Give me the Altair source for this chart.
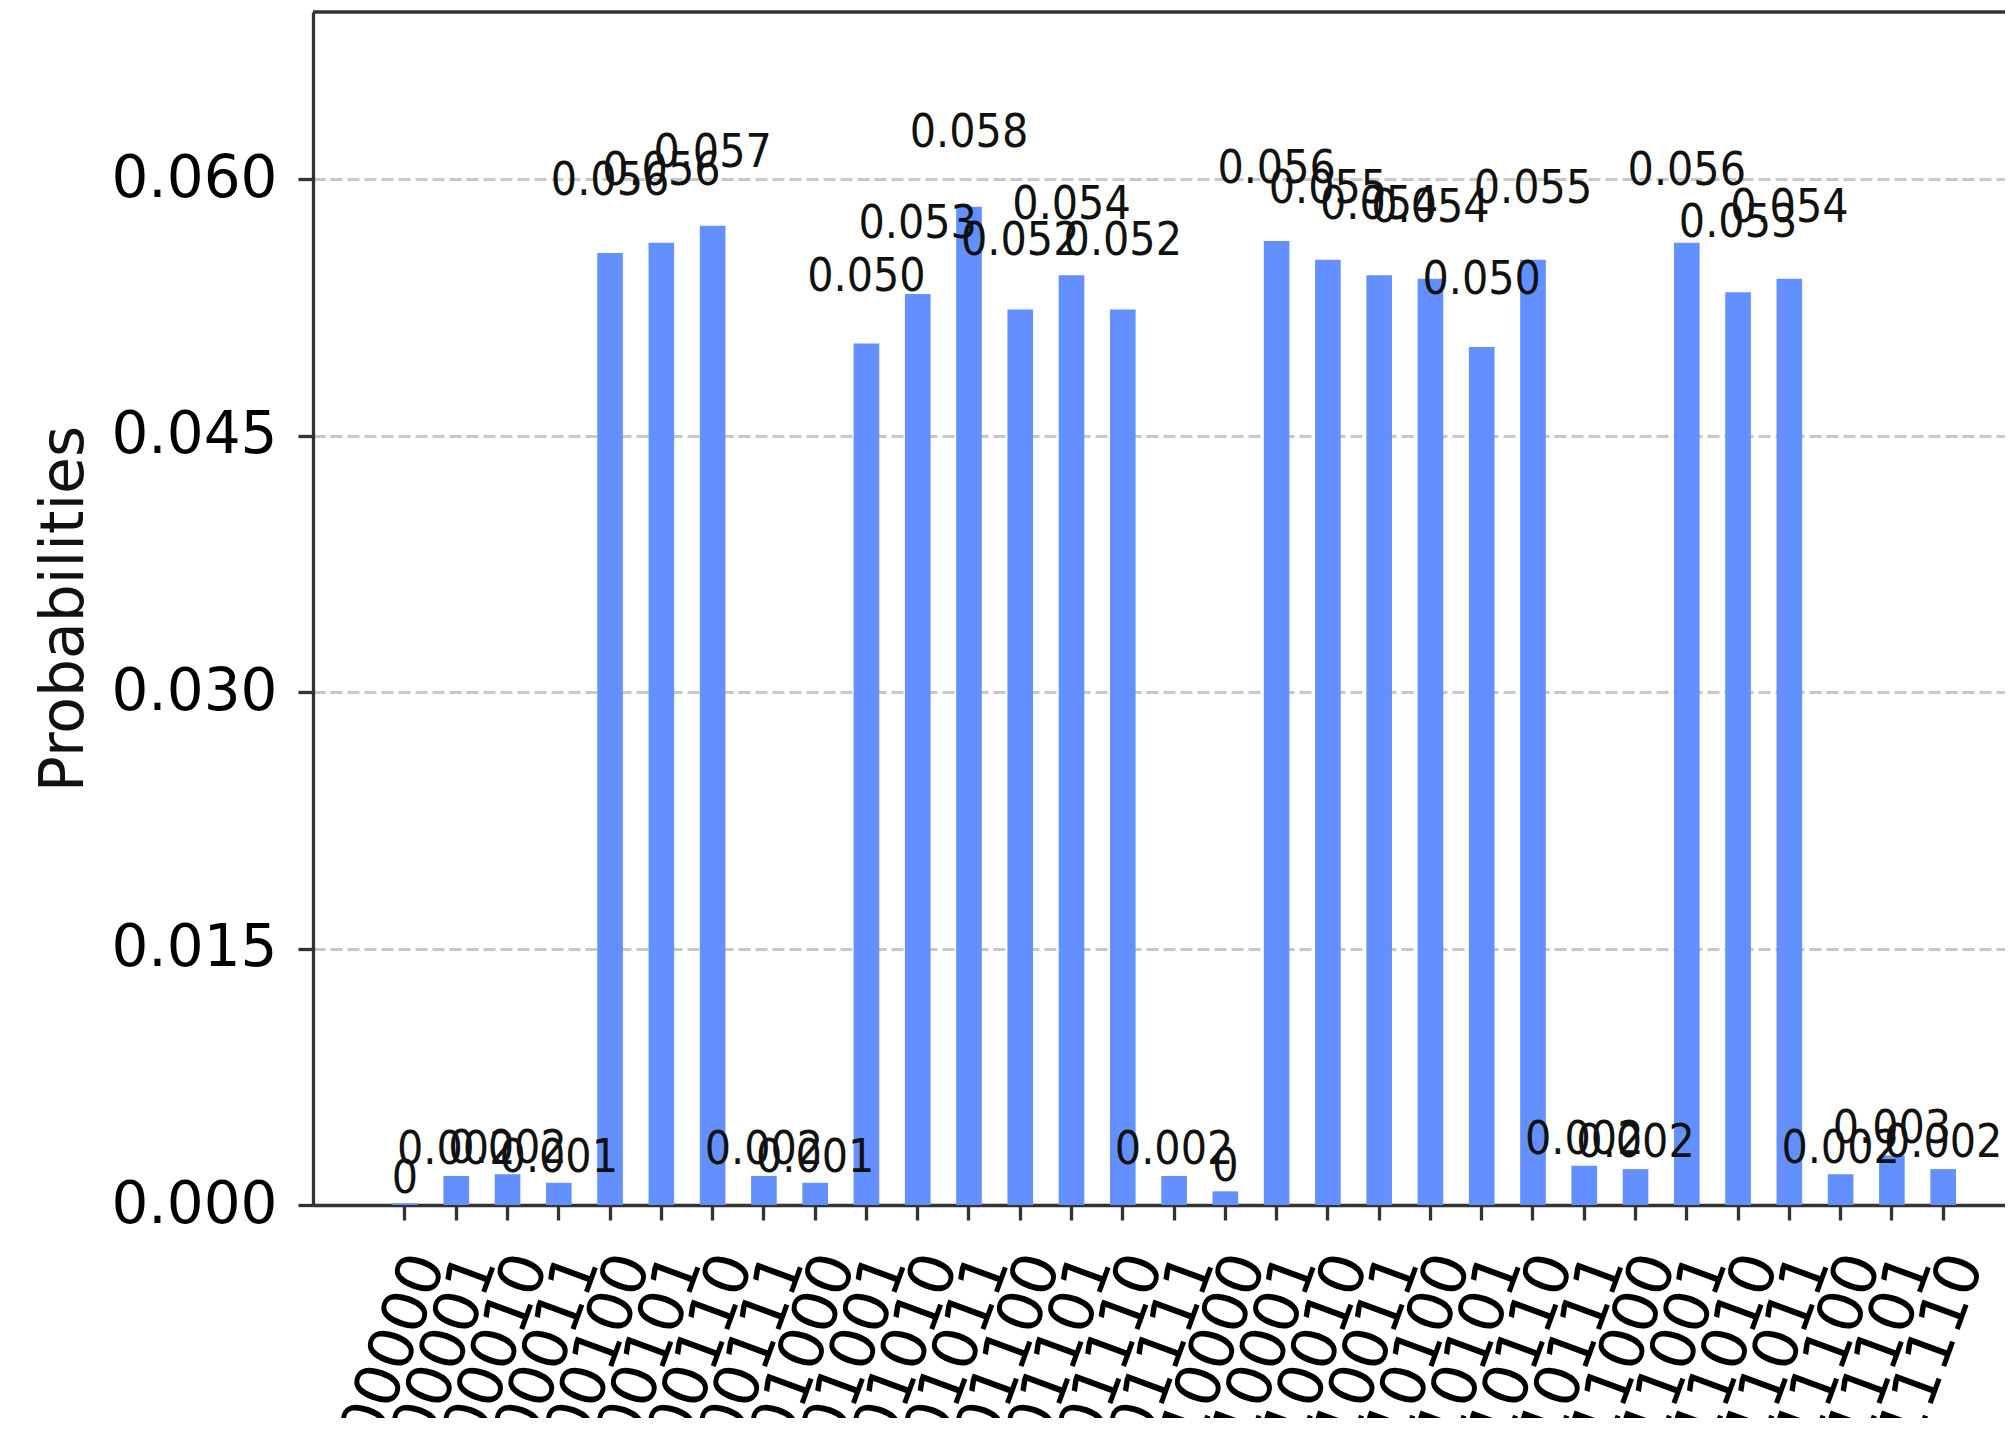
import altair as alt
import pandas as pd

states = [
    "00000", "00001", "00010", "00011", "00100", "00101", "00110", "00111",
    "01000", "01001", "01010", "01011", "01100", "01101", "01110", "01111",
    "10000", "10001", "10010", "10011", "10100", "10101", "10110", "10111",
    "11000", "11001", "11010", "11011", "11100", "11101", "11110",
]
probs = [
    0.0001, 0.0017, 0.0018, 0.0013, 0.0557, 0.0563, 0.0573, 0.0017,
    0.0013, 0.0504, 0.0533, 0.0584, 0.0524, 0.0544, 0.0524, 0.0017,
    0.0008, 0.0564, 0.0553, 0.0544, 0.0542, 0.0502, 0.0553, 0.0023,
    0.0021, 0.0563, 0.0534, 0.0542, 0.0018, 0.0029, 0.0021,
]
y_ticks = [0.0, 0.015, 0.030, 0.045, 0.060]

df = pd.DataFrame({"state": states, "p": probs})

W = 1692
H = 1193
SPINE = "#333333"

xscale = alt.Scale(paddingInner=0, paddingOuter=1, align=0.647, round=False)
yscale = alt.Scale(domain=[0, 0.0698], nice=False, zero=True)

x_axis = alt.Axis(
    title=None,
    labelAngle=290,
    labelAlign="right",
    labelBaseline="middle",
    labelFont="DejaVu Sans",
    labelFontSize=62,
    labelColor="#000000",
    labelOffset=23,
    labelPadding=36,
    labelOverlap=False,
    labelLimit=0,
    tickSize=15,
    tickWidth=3.3,
    tickColor=SPINE,
    domainColor=SPINE,
    domainWidth=3.3,
    grid=False,
)

y_axis = alt.Axis(
    title="Probabilities",
    values=y_ticks,
    format=".3f",
    labelFont="DejaVu Sans",
    labelFontSize=58,
    labelColor="#000000",
    labelPadding=21,
    labelLimit=0,
    tickSize=15,
    tickWidth=3.3,
    tickColor=SPINE,
    domainColor=SPINE,
    domainWidth=3.3,
    titleFont="DejaVu Sans",
    titleFontSize=60,
    titleFontWeight="normal",
    titleColor="#111111",
    titlePadding=18,
    grid=True,
    gridColor="#c8c8c8",
    gridDash=[12, 5],
    gridWidth=3,
)

bars = alt.Chart(df).mark_bar(color="#648fff", width=alt.RelativeBandSize(0.5)).encode(
    x=alt.X("state:N", sort=states, scale=xscale, axis=x_axis),
    y=alt.Y("p:Q", scale=yscale, axis=y_axis),
)

labels = (
    alt.Chart(df)
    .transform_calculate(
        ly="datum.p * 1.05",
        lab="datum.p >= 0.001 ? format(datum.p, '.3f') : '0'",
    )
    .mark_text(
        baseline="bottom",
        align="center",
        font="DejaVu Sans Condensed, DejaVu Sans",
        fontSize=46,
        color="#111111",
    )
    .encode(
        x=alt.X("state:N", sort=states, scale=xscale, axis=x_axis),
        y=alt.Y("ly:Q", scale=yscale, axis=y_axis),
        text="lab:N",
    )
)

top_spine = (
    alt.Chart(pd.DataFrame({"k": [0]}))
    .mark_rule(color=SPINE, strokeWidth=3.3)
    .encode(y=alt.value(0), x=alt.value(0), x2=alt.value(W))
)

chart = (
    alt.layer(bars, labels, top_spine)
    .properties(
        width=W,
        height=H,
        autosize=alt.AutoSizeParams(type="none"),
        padding={"left": 305, "top": 4, "right": 0, "bottom": 213},
    )
    .configure_view(stroke=None)
    .configure(background="white")
)

chart.save("out.html", embed_options={"renderer": "svg", "actions": False})
